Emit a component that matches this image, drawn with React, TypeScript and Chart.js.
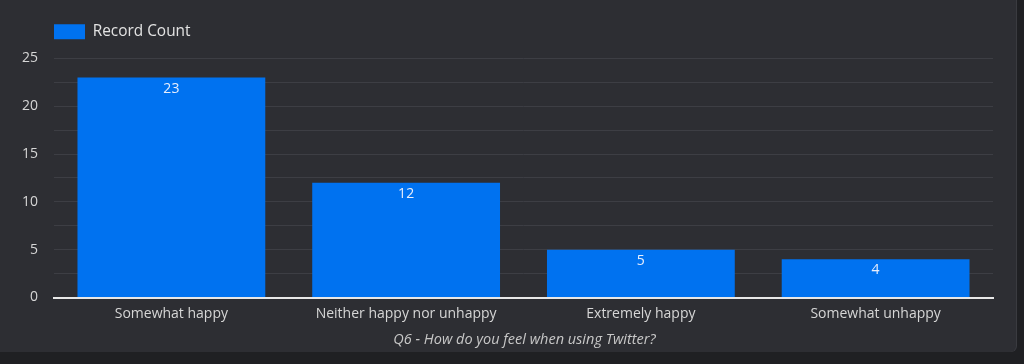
import React, { useEffect, useRef } from "react";
import { Chart, registerables } from "chart.js";

Chart.register(...registerables);

const categories = ["Somewhat happy", "Neither happy nor unhappy", "Extremely happy", "Somewhat unhappy"];
const recordCount = [23, 12, 5, 4];
const seriesLabel = "Record Count";
const axisTitle = "Q6 - How do you feel when using Twitter?";

const FONT = "'Open Sans', 'Noto Sans', sans-serif";

const valueLabels = {
  id: "valueLabels",
  afterDatasetsDraw(chart: any) {
    const ctx = chart.ctx;
    const meta = chart.getDatasetMeta(0);
    ctx.save();
    ctx.font = `14px ${FONT}`;
    ctx.fillStyle = "#e8eefc";
    ctx.textAlign = "center";
    ctx.textBaseline = "middle";
    meta.data.forEach((bar: any, i: number) => {
      ctx.fillText(String(chart.data.datasets[0].data[i]), bar.x, bar.y + 11);
    });
    ctx.restore();
  },
};

const shiftBlocks = {
  id: "shiftBlocks",
  beforeLayout(chart: any) {
    const l = chart.legend;
    if (l && !l._patchedFit) {
      const f = l.fit.bind(l);
      l.fit = function () {
        f();
        this.height += 9;
      };
      l._patchedFit = true;
    }
  },
  afterLayout(chart: any) {
    const l = chart.legend;
    if (l) {
      l.left += 35.5;
      l.right += 35.5;
    }
    const t = chart.titleBlock;
    if (t) {
      t.left += 28;
      t.right += 28;
    }
  },
};

export default function App() {
  const ref = useRef<HTMLCanvasElement>(null);
  useEffect(() => {
    document.body.style.margin = "0";
    document.body.style.background = "#1f2023";
    const chart = new Chart(ref.current!, {
      type: "bar",
      data: {
        labels: categories,
        datasets: [
          {
            label: seriesLabel,
            data: recordCount,
            backgroundColor: "#0072f0",
            borderWidth: 0,
            barPercentage: 0.8,
            categoryPercentage: 1,
          },
        ],
      },
      options: {
        animation: false,
        responsive: false,
        maintainAspectRatio: false,
        layout: { padding: { top: 5.5, right: 23, bottom: 0, left: 0 } },
        plugins: {
          legend: {
            position: "top",
            align: "start",
            labels: {
              boxWidth: 31,
              boxHeight: 15,
              padding: 18.5,
              color: "#e3e3e3",
              font: { family: FONT, size: 15.4 },
            },
          },
          title: {
            display: true,
            position: "bottom",
            text: axisTitle,
            color: "#c8c8c8",
            font: { family: FONT, size: 14.5, style: "italic", weight: "normal" },
            padding: { top: 1, bottom: 3.3 },
          },
          tooltip: { enabled: false },
        },
        scales: {
          x: {
            grid: { display: false, drawTicks: false },
            border: { display: true, color: "#e8e8e8", width: 2 },
            ticks: { color: "#d6d6d6", font: { family: FONT, size: 14 }, padding: 8, maxRotation: 0 },
          },
          y: {
            min: 0,
            max: 25,
            grid: { color: "#3d3e44", lineWidth: 1, drawTicks: false },
            border: { display: false },
            ticks: {
              stepSize: 2.5,
              padding: 16,
              color: "#d6d6d6",
              font: { family: FONT, size: 14 },
              callback: (v: any) => (Number(v) % 5 === 0 ? String(v) : ""),
            },
            afterFit(scale: any) {
              scale.width = 54;
            },
          },
        },
      },
      plugins: [valueLabels, shiftBlocks],
    });
    return () => chart.destroy();
  }, []);
  return (
    <div style={{ width: 1024, height: 364, background: "#1f2023", position: "relative", overflow: "hidden" }}>
      <div
        style={{
          position: "absolute",
          left: 0,
          top: 0,
          width: 1016,
          height: 352,
          background: "#2d2e33",
          borderBottomRightRadius: 6,
          boxShadow: "1px 0 0 #3a3b40",
        }}
      >
        <canvas ref={ref} width={1016} height={352} style={{ display: "block" }} />
      </div>
    </div>
  );
}
